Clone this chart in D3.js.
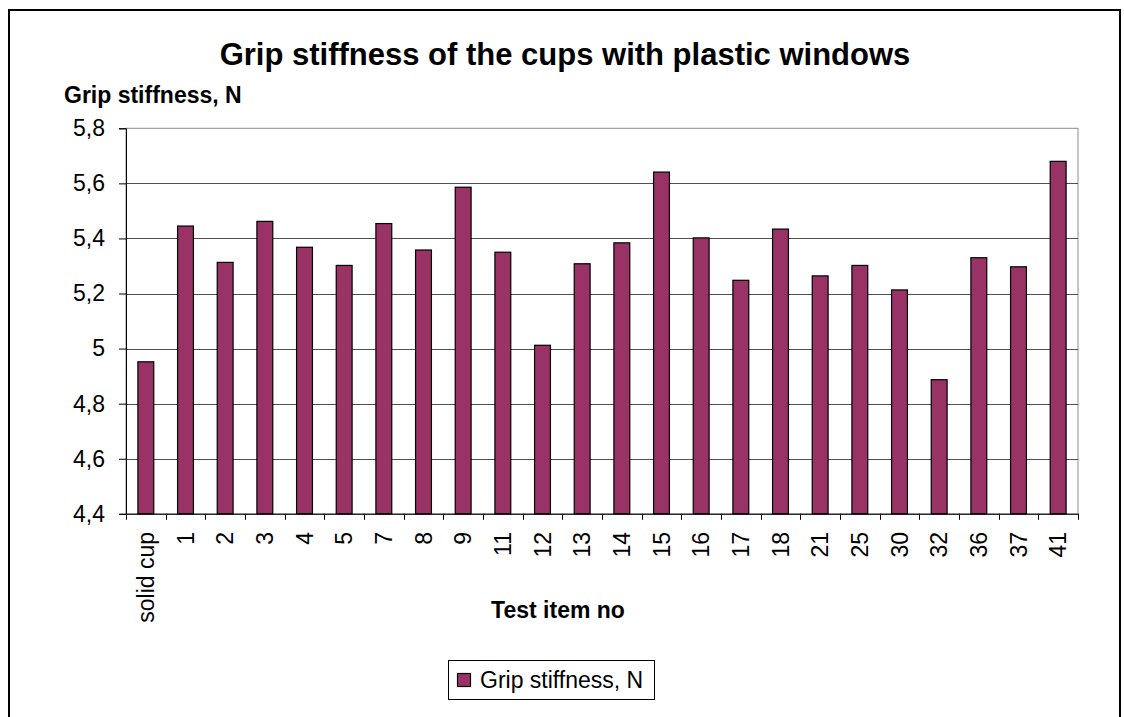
<!DOCTYPE html>
<html>
<head>
<meta charset="utf-8">
<script src="https://cdn.jsdelivr.net/npm/d3@7"></script>
<style>
  html, body { margin: 0; padding: 0; background: #fff; }
  svg { display: block; font-family: "Liberation Sans", Arial, sans-serif; }
</style>
</head>
<body>
<svg id="chart" width="1124" height="717"></svg>
<script>
const categories = ["solid cup","1","2","3","4","5","7","8","9","11","12","13","14","15","16","17","18","21","25","30","32","36","37","41"];
const values = [4.952,5.445,5.313,5.462,5.368,5.302,5.454,5.358,5.586,5.350,5.012,5.308,5.384,5.641,5.402,5.248,5.434,5.264,5.302,5.213,4.887,5.330,5.297,5.680];
const yTicks = [4.4,4.6,4.8,5.0,5.2,5.4,5.6,5.8];
const yTickLabels = ["4,4","4,6","4,8","5","5,2","5,4","5,6","5,8"];
const seriesName = "Grip stiffness, N";
const chartTitle = "Grip stiffness of the cups with plastic windows";
const yTitle = "Grip stiffness, N";
const xTitle = "Test item no";

const svg = d3.select("#chart");
const plot = {left: 126, right: 1078, top: 128.3, bottom: 513.8};
const barColor = "#993366";

// outer border
svg.append("rect").attr("x", 9).attr("y", 10).attr("width", 1111).attr("height", 740)
  .attr("fill", "#fff").attr("stroke", "#000").attr("stroke-width", 2);

const x = d3.scaleBand().domain(categories).range([plot.left, plot.right]).paddingInner(0).paddingOuter(0);
const y = d3.scaleLinear().domain([4.4, 5.8]).range([plot.bottom, plot.top]);

// plot frame (top/right grey)
svg.append("rect").attr("x", plot.left).attr("y", plot.top)
  .attr("width", plot.right - plot.left).attr("height", plot.bottom - plot.top)
  .attr("fill", "none").attr("stroke", "#8c8c8c").attr("stroke-width", 1);

// gridlines
svg.append("g").selectAll("line").data(yTicks.slice(1, -1)).join("line")
  .attr("x1", plot.left).attr("x2", plot.right)
  .attr("y1", d => Math.round(y(d)) + 0.5).attr("y2", d => Math.round(y(d)) + 0.5)
  .attr("stroke", "#505050").attr("stroke-width", 1);

// bars
const bw = x.bandwidth() / 2.5;
svg.append("g").selectAll("rect").data(values).join("rect")
  .attr("x", (d, i) => x(categories[i]) + x.bandwidth() / 2 - bw / 2)
  .attr("y", d => y(d))
  .attr("width", bw)
  .attr("height", d => plot.bottom - y(d))
  .attr("fill", barColor).attr("stroke", "#000").attr("stroke-width", 1.2);

// y axis
const yAxis = d3.axisLeft(y).tickValues(yTicks).tickFormat((d, i) => yTickLabels[i]).tickSizeOuter(0).tickSize(7).tickPadding(14);
const gy = svg.append("g").attr("transform", `translate(${plot.left},0)`).call(yAxis);
gy.select(".domain").attr("stroke", "#000");
gy.selectAll(".tick line").attr("stroke", "#000");
gy.selectAll("text").attr("font-size", 23).attr("fill", "#000").attr("font-family", "Liberation Sans, Arial, sans-serif");

// x axis
const xAxis = d3.axisBottom(x).tickSize(0).tickSizeOuter(0);
const gx = svg.append("g").attr("transform", `translate(0,${plot.bottom})`).call(xAxis);
gx.select(".domain").attr("stroke", "#000");
gx.selectAll(".tick text")
  .attr("font-size", 23).attr("fill", "#000").attr("font-family", "Liberation Sans, Arial, sans-serif")
  .attr("text-anchor", "end")
  .attr("transform", "rotate(-90)")
  .attr("x", -(532 - plot.bottom)).attr("y", 0).attr("dy", "0.36em");
// boundary ticks
const bounds = categories.map(c => x(c)).concat([plot.right]);
svg.append("g").selectAll("line").data(bounds).join("line")
  .attr("x1", d => Math.round(d) + 0.5).attr("x2", d => Math.round(d) + 0.5)
  .attr("y1", plot.bottom).attr("y2", plot.bottom + 6)
  .attr("stroke", "#000");

// titles
svg.append("text").attr("x", 565).attr("y", 65).attr("text-anchor", "middle")
  .attr("font-size", 31).attr("font-weight", "bold").text(chartTitle);
svg.append("text").attr("x", 64).attr("y", 103)
  .attr("font-size", 23).attr("font-weight", "bold").text(yTitle);
svg.append("text").attr("x", 558).attr("y", 618).attr("text-anchor", "middle")
  .attr("font-size", 23).attr("font-weight", "bold").text(xTitle);

// legend
const lg = svg.append("g");
lg.append("rect").attr("x", 448.5).attr("y", 660.5).attr("width", 206).attr("height", 39)
  .attr("fill", "#fff").attr("stroke", "#000").attr("stroke-width", 1);
lg.append("rect").attr("x", 457.5).attr("y", 673.5).attr("width", 13).attr("height", 13)
  .attr("fill", barColor).attr("stroke", "#000").attr("stroke-width", 1.2);
lg.append("text").attr("x", 480).attr("y", 688).attr("font-size", 23).text(seriesName);
</script>
</body>
</html>
